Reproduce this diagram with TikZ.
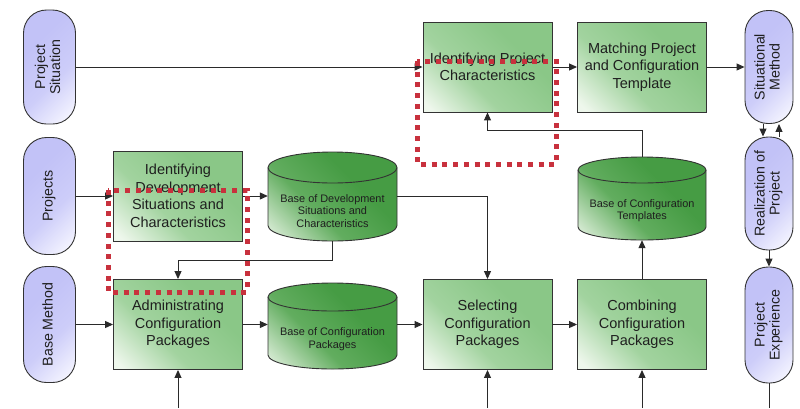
\documentclass[tikz,border=0pt]{standalone}
\usepackage{fontspec}
\setmainfont{Liberation Sans}
\usepackage{graphicx}
\usetikzlibrary{arrows.meta}

\definecolor{boxdark}{HTML}{8AC787}
\definecolor{boxmid}{HTML}{A2D39F}
\definecolor{boxlight}{HTML}{EEF7EC}
\definecolor{drumdark}{HTML}{469C44}
\definecolor{drummid}{HTML}{62AD5F}
\definecolor{drumlight}{HTML}{E2F1DF}
\definecolor{pilldark}{HTML}{C2C2F7}
\definecolor{pillmid}{HTML}{CDCDF9}
\definecolor{pilllight}{HTML}{F4F4FF}
\definecolor{edge}{HTML}{333333}
\definecolor{wire}{HTML}{2A2A2A}
\definecolor{markred}{HTML}{C8313D}

% gradients, light corner first (0bp at the bottom of the shading)
\pgfdeclareverticalshading{boxgrad}{100bp}{color(0bp)=(boxlight); color(18bp)=(boxlight); color(40bp)=(boxmid); color(66bp)=(boxdark); color(100bp)=(boxdark)}
\pgfdeclareverticalshading{drumgrad}{100bp}{color(0bp)=(drumlight); color(16bp)=(drumlight); color(40bp)=(drummid); color(62bp)=(drumdark); color(100bp)=(drumdark)}
\pgfdeclareverticalshading{pillgrad}{100bp}{color(0bp)=(pilllight); color(20bp)=(pilllight); color(42bp)=(pillmid); color(66bp)=(pilldark); color(100bp)=(pilldark)}

\tikzset{
  every node/.style={font=\fontsize{14.5}{17.5}\selectfont, text=black!88},
  procbox/.style={draw=edge, line width=0.9pt, minimum width=129, minimum height=90,
    inner sep=0, align=center, shading=boxgrad, shading angle=-45},
  pill/.style={draw=edge, line width=0.9pt, rounded corners=23pt, inner sep=0,
    shading=pillgrad, shading angle=45},
  drumbody/.style={shading=drumgrad, shading angle=-45},
  drumline/.style={draw=edge, line width=0.9pt},
  drumtext/.style={font=\fontsize{10.9}{12.6}\selectfont, align=center, inner sep=0},
  conn/.style={draw=wire, line width=1pt, -{Triangle[length=8pt,width=7pt]}},
  plain/.style={draw=wire, line width=1pt},
  redmark/.style={draw=markred, line width=5pt, dash pattern=on 5pt off 5.7pt},
}

% vertical label inside a pill
\newcommand{\vlabel}[1]{\rotatebox{90}{\fontsize{14.2}{15}\selectfont\begin{tabular}{@{}c@{}}#1\end{tabular}}}

% drum (database) shape: name, x1, y1, x2, y2, ellipse radius, text
\newcommand{\drum}[7]{%
  \pgfmathsetmacro{\drx}{(#4-#2)/2}%
  \pgfmathsetmacro{\drw}{#4-#2}%
  \pgfmathsetmacro{\drh}{#5-#3}%
  \pgfmathsetmacro{\dcx}{(#2+#4)/2}%
  \pgfmathsetmacro{\dcy}{(#3+#5)/2}%
  \pgfmathsetmacro{\dty}{(#3+2*#6+#5)/2-1}%
  \shade[drumbody] (#2,#3+#6) -- (#2,#5-#6)
     arc[start angle=180,end angle=0,x radius=\drx,y radius=#6]
     -- (#4,#3+#6)
     arc[start angle=0,end angle=-180,x radius=\drx,y radius=#6] -- cycle;
  \draw[drumline] (#2,#3+#6) -- (#2,#5-#6)
     arc[start angle=180,end angle=0,x radius=\drx,y radius=#6]
     -- (#4,#3+#6)
     arc[start angle=0,end angle=-180,x radius=\drx,y radius=#6] -- cycle;
  \draw[drumline] (#2,#3+#6) arc[start angle=180,end angle=0,x radius=\drx,y radius=#6];
  \node[inner sep=0, minimum width=\drw, minimum height=\drh] (#1) at (\dcx,\dcy) {};
  \node[drumtext] at (\dcx,\dty) {#7};
}

\begin{document}
\begin{tikzpicture}[x=1pt,y=-1pt]
\useasboundingbox (0,0) rectangle (800,408);
\coordinate (floor) at (0,408);

% terminals on the left
\node[pill, minimum width=52, minimum height=114] (ps) at (49.5,67) {\vlabel{Project\\Situation}};
\node[pill, minimum width=52, minimum height=117] (prj) at (49.5,196) {\vlabel{Projects}};
\node[pill, minimum width=52, minimum height=116] (bm) at (49.5,324.5) {\vlabel{Base Method}};

% terminals on the right
\node[pill, minimum width=48, minimum height=113] (sm) at (769,67) {\vlabel{Situational\\Method}};
\node[pill, minimum width=48, minimum height=113] (rp) at (769,193.5) {\vlabel{Realization of\\Project}};
\node[pill, minimum width=48, minimum height=116] (pe) at (769,325) {\vlabel{Project\\Experience}};

% process steps
\node[procbox] (ipc) at (487.5,67) {Identifying Project\\Characteristics};
\node[procbox] (match) at (642,67) {Matching Project\\and Configuration\\Template};
\node[procbox] (idsc) at (178,196) {Identifying\\Development\\Situations and\\Characteristics};
\node[procbox] (adm) at (178,324.5) {Administrating\\Configuration\\Packages};
\node[procbox] (sel) at (487.5,324.5) {Selecting\\Configuration\\Packages};
\node[procbox] (comb) at (642,324.5) {Combining\\Configuration\\Packages};

% repositories
\drum{bdsc}{268}{152}{397}{241}{15.5}{Base of Development\\Situations and\\Characteristics}
\drum{bcp}{268}{283}{397}{369}{14}{Base of Configuration\\Packages}
\drum{bct}{578}{157}{706}{240}{13}{Base of Configuration\\Templates}

% flows
\draw[conn] (ps.east) -- (ipc.west);
\draw[conn] (ipc.east) -- (match.west);
\draw[conn] (match.east) -- (match.east -| sm.west);
\draw[conn] (prj.east) -- (idsc.west);
\draw[conn] (idsc.east) -- (idsc.east -| bdsc.west);
\draw[conn] (bdsc.east) -| (sel.north);
\draw[conn] (bdsc.south) -- ++(0,19) -| (adm.north);
\draw[conn] (bm.east) -- (adm.west);
\draw[conn] (adm.east) -- (adm.east -| bcp.west);
\draw[conn] (sel.west -| bcp.east) -- (sel.west);
\draw[conn] (sel.east) -- (comb.west);
\draw[conn] (comb.north) -- (bct.south);
\draw[conn] (bct.north) -- ++(0,-26) -| (ipc.south);
\draw[conn] ([xshift=-6]sm.south) -- ([xshift=-6]rp.north);
\draw[conn] ([xshift=10]rp.north) -- ([xshift=10]sm.south);
\draw[conn] (rp.south) -- (pe.north);
\draw[plain] (pe.south) -- (pe.south |- floor);
\draw[conn] (adm.south |- floor) -- (adm.south);
\draw[conn] (sel.south |- floor) -- (sel.south);
\draw[conn] (comb.south |- floor) -- (comb.south);

% highlighted regions
\draw[redmark] (417,61) rectangle (556,164);
\draw[redmark] (108,190) rectangle (247,292);
\end{tikzpicture}
\end{document}
